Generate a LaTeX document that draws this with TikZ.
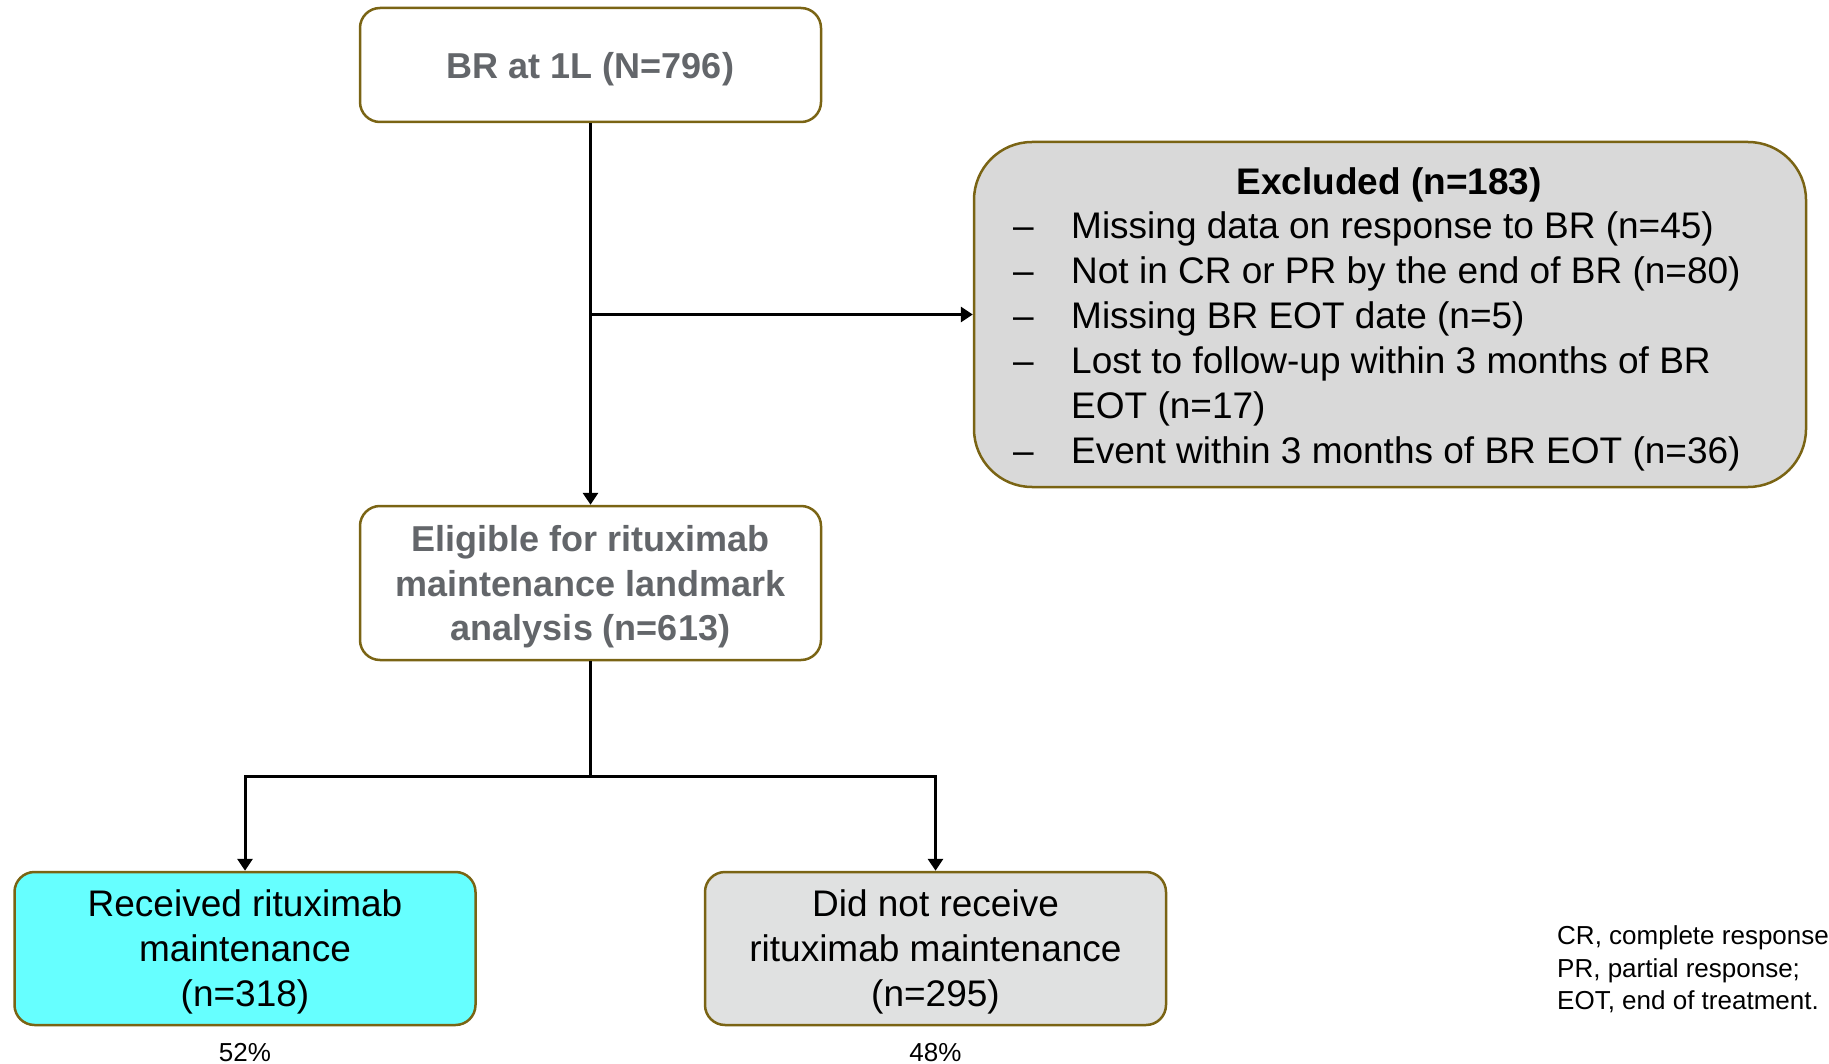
\documentclass[tikz,border=0pt]{standalone}
\usepackage{fontspec}
\setmainfont{Liberation Sans}
\usepackage{tikz}
\usetikzlibrary{positioning,calc,arrows.meta}

\definecolor{boxedge}{RGB}{122,100,20}
\definecolor{titlegray}{RGB}{99,102,106}
\definecolor{exclgray}{RGB}{217,217,217}
\definecolor{nogray}{RGB}{224,225,225}
\definecolor{recvcyan}{RGB}{102,255,255}

\begin{document}
\begin{tikzpicture}[
    x=1pt, y=-1pt,
    box/.style={draw=boxedge, line width=2.5pt, rounded corners=20pt, minimum width=461pt, minimum height=114pt, align=center, inner sep=0pt, text depth=0pt},
    bigtxt/.style={font=\fontsize{37}{45}\selectfont},
    smalltxt/.style={font=\fontsize{26}{32.5}\selectfont},
    arr/.style={-{Triangle[width=15pt,length=12pt]}, line width=3pt},
    line/.style={line width=3pt}
]
    \useasboundingbox (0,0) rectangle (1829,1064);

    % --- Top boxes ---
    \node[box, fill=white, text=titlegray, font=\fontsize{36}{45}\selectfont\bfseries] (br) at (590.5,65) {BR at 1L (N=796)};
    \node[box, fill=white, text=titlegray, minimum height=154pt, font=\fontsize{36}{44.5}\selectfont\bfseries] (elig) at (590.5,583) {Eligible for rituximab\\maintenance landmark\\analysis (n=613)};

    % --- Excluded ---
    \node[box, fill=exclgray, rounded corners=58pt, minimum width=832pt, minimum height=345pt] (excl) at (1390,314.5) {};
    \node[bigtxt, font=\fontsize{37}{45}\selectfont\bfseries] (excltitle) at (1389,184.5) {Excluded (n=183)};
    \node[bigtxt, align=left, anchor=west, inner sep=0pt] (excllist) at (1013,341.5) {%
        \makebox[58pt][l]{–}Missing data on response to BR (n=45)\\
        \makebox[58pt][l]{–}Not in CR or PR by the end of BR (n=80)\\
        \makebox[58pt][l]{–}Missing BR EOT date (n=5)\\
        \makebox[58pt][l]{–}Lost to follow-up within 3 months of BR\\
        \hspace*{58pt}EOT (n=17)\\
        \makebox[58pt][l]{–}Event within 3 months of BR EOT (n=36)};

    % --- Bottom boxes ---
    \node[box, bigtxt, fill=recvcyan, minimum height=153pt] (recv) at (245,948.5) {Received rituximab\\maintenance\\(n=318)};
    \node[box, bigtxt, fill=nogray, minimum height=153pt] (norecv) at (935.5,948.5) {Did not receive\\rituximab maintenance\\(n=295)};
    \node[smalltxt] (recvpct) at (245,1053) {52\%};
    \node[smalltxt] (nopct) at (935.5,1053) {48\%};

    % --- Connectors ---
    \coordinate (exjoin) at (br.south |- excl.west);
    \coordinate (split) at (590.5,776);
    \draw[arr] (br) -- (elig);
    \draw[arr] (exjoin) -- (excl.west);
    \draw[line] (elig) -- (split);
    \draw[arr] (split) -| (recv);
    \draw[arr] (split) -| (norecv);

    % --- Abbreviations ---
    \node[smalltxt, align=left, anchor=west, inner sep=0pt] (abbr) at (1557,969.5) {CR, complete response\\PR, partial response;\\EOT, end of treatment.};
\end{tikzpicture}
\end{document}
